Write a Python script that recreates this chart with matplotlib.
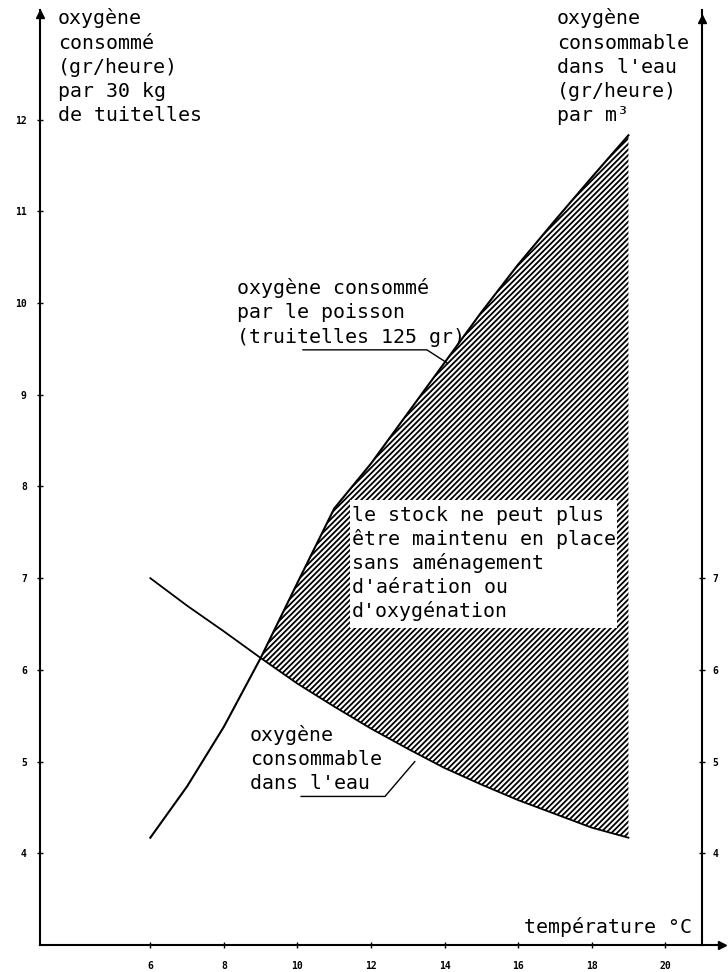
import matplotlib
matplotlib.use('Agg')
import matplotlib.pyplot as plt
from matplotlib.patches import Rectangle

# temperature (deg C) and the two curves
temps = [6, 7, 8, 9, 10, 11, 12, 13, 14, 15, 16, 17, 18, 19]
fishO2 = [4.17, 4.73, 5.38, 6.13, 6.95, 7.76, 8.25, 8.80, 9.35, 9.90, 10.42, 10.90, 11.37, 11.83]
waterO2 = [7.00, 6.70, 6.42, 6.13, 5.85, 5.60, 5.36, 5.14, 4.93, 4.75, 4.58, 4.43, 4.28, 4.17]

leftTicks = [4, 5, 6, 7, 8, 9, 10, 11, 12]
rightTicks = [4, 5, 6, 7]
bottomTicks = [6, 8, 10, 12, 14, 16, 18, 20]

leftTitle = ["oxygène", "consommé", "(gr/heure)", "par 30 kg", "de tuitelles"]
rightTitle = ["oxygène", "consommable", "dans l'eau", "(gr/heure)", "par m³"]
fishLabel = ["oxygène consommé", "par le poisson", "(truitelles 125 gr)"]
waterLabel = ["oxygène", "consommable", "dans l'eau"]
stockLabel = ["le stock ne peut plus", "être maintenu en place", "sans aménagement",
              "d'aération ou", "d'oxygénation"]

plt.rcParams['font.family'] = ['DejaVu Sans Mono', 'DejaVu Sans']
plt.rcParams['hatch.linewidth'] = 1.3

W, H = 728, 972
fig = plt.figure(figsize=(W / 100, H / 100), dpi=100)
ax = fig.add_axes([40 / W, 27 / H, 662 / W, 935 / H])
ax.set_xlim(3, 21)
ax.set_ylim(3, 13.196)

# hatched zone between the two curves
ax.fill_between(temps[3:], waterO2[3:], fishO2[3:], facecolor='white',
                edgecolor='black', hatch='//////', linewidth=0, zorder=1)
ax.add_patch(Rectangle((11.42, 6.46), 7.26, 1.39, facecolor='white',
                       edgecolor='none', zorder=2))

ax.plot(temps, fishO2, color='black', lw=1.5, zorder=3)
ax.plot(temps, waterO2, color='black', lw=1.3, zorder=3)

# leader lines of the labels
ax.plot([10.15, 13.52, 14.06], [9.49, 9.49, 9.35], color='black', lw=1, zorder=3)
ax.plot([10.1, 12.38, 13.19], [4.62, 4.62, 5.0], color='black', lw=1, zorder=3)

# axes
for side in ['left', 'right', 'bottom']:
    ax.spines[side].set_linewidth(1.5)
ax.spines['top'].set_visible(False)
ax.set_yticks(leftTicks)
ax.set_yticklabels([str(t) for t in leftTicks])
ax.set_xticks(bottomTicks)
ax.set_xticklabels([str(t) for t in bottomTicks])
ax.tick_params(axis='y', direction='inout', length=5, width=1, pad=7, labelsize=7)
ax.tick_params(axis='x', direction='inout', length=5, width=1, pad=9, labelsize=7)
for lab in ax.get_xticklabels() + ax.get_yticklabels():
    lab.set_fontweight('bold')

ax2 = ax.twinx()
ax2.set_ylim(ax.get_ylim())
ax2.set_yticks(rightTicks)
ax2.set_yticklabels([str(t) for t in rightTicks])
ax2.tick_params(axis='y', direction='inout', length=5, width=1, pad=5, labelsize=7)
for lab in ax2.get_yticklabels():
    lab.set_fontweight('bold')
for side in ['left', 'right', 'bottom', 'top']:
    ax2.spines[side].set_visible(False)

# arrow heads
ax.plot([3], [13.15], marker='^', ms=6, color='black', clip_on=False)
ax.plot([21], [13.1], marker='^', ms=6, color='black', clip_on=False)
ax.plot([21, 21.5], [3, 3], color='black', lw=1.5, clip_on=False)
ax.plot([21.55], [3], marker='>', ms=6, color='black', clip_on=False)


def put_lines(x, baselines, lines, ha='left'):
    for y, s in zip(baselines, lines):
        fig.text(x / W, 1 - y / H, s, ha=ha, va='baseline', fontsize=14.3)


put_lines(58, [24, 49, 73, 97, 121], leftTitle)
put_lines(557, [24, 49, 73, 97, 121], rightTitle)
put_lines(237, [294, 318, 343], fishLabel)
put_lines(352, [521, 545, 569, 593, 617], stockLabel)
put_lines(250, [741, 765, 789], waterLabel)
put_lines(692, [933], ["température °C"], ha='right')

fig.savefig('out.png', dpi=100)
